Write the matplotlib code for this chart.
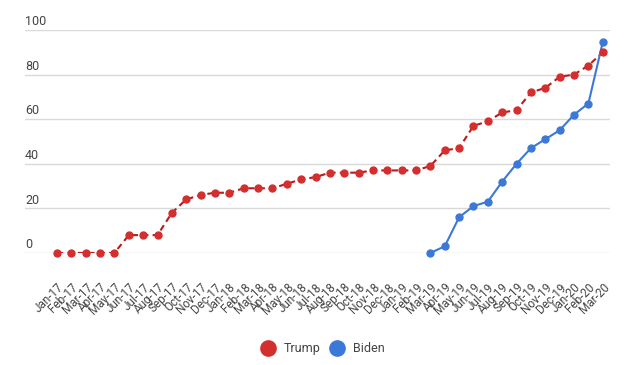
import numpy as np
import matplotlib
matplotlib.use("Agg")
import matplotlib.pyplot as plt
from matplotlib.lines import Line2D

plt.rcParams['font.family'] = ['Roboto', 'DejaVu Sans']

months = ['Jan-17', 'Feb-17', 'Mar-17', 'Apr-17', 'May-17', 'Jun-17', 'Jul-17', 'Aug-17',
          'Sep-17', 'Oct-17', 'Nov-17', 'Dec-17', 'Jan-18', 'Feb-18', 'Mar-18', 'Apr-18',
          'May-18', 'Jun-18', 'Jul-18', 'Aug-18', 'Sep-18', 'Oct-18', 'Nov-18', 'Dec-18',
          'Jan-19', 'Feb-19', 'Mar-19', 'Apr-19', 'May-19', 'Jun-19', 'Jul-19', 'Aug-19',
          'Sep-19', 'Oct-19', 'Nov-19', 'Dec-19', 'Jan-20', 'Feb-20', 'Mar-20']

trump = [0, 0, 0, 0, 0, 8, 8, 8, 18, 24, 26, 27, 27, 29, 29, 29, 31, 33, 34, 36, 36, 36,
         37, 37, 37, 37, 39, 46, 47, 57, 59, 63, 64, 72, 74, 79, 80, 84, 90]

biden_months = months[26:]
biden = [0, 3, 16, 21, 23, 32, 40, 47, 51, 55, 62, 67, 94.5]

yticks = [0, 20, 40, 60, 80, 100]

red = '#d32f2f'
red_line = '#b71c1c'
blue = '#3c78d8'
text_col = '#444444'

fig = plt.figure(figsize=(6.4, 3.65), dpi=100)
ax = fig.add_axes([0.039, 0.307, 0.914, 0.611])

x = np.arange(len(months))
xb = np.array([months.index(m) for m in biden_months])

ax.plot(x, trump, color=red_line, lw=1.5, ls=(0, (3, 2)), zorder=3)
ax.plot(x, trump, ls='none', marker='o', ms=5, color=red, zorder=4, clip_on=False)
ax.plot(xb, biden, color=blue, lw=1.5, zorder=3)
ax.plot(xb, biden, ls='none', marker='o', ms=5, color=blue, zorder=4, clip_on=False)

ax.set_xlim(-2.23, 38.5)
ax.set_ylim(0, 100)

for yv in yticks:
    ax.axhline(yv, color='#d9d9d9', lw=1, zorder=1)
    ax.text(0.0, yv + 0.8, str(yv), transform=ax.get_yaxis_transform(),
            ha='left', va='bottom', fontsize=9, color=text_col)

ax.set_yticks([])
ax.set_xticks(x)
ax.set_xticklabels(months, rotation=45, ha='right', rotation_mode='anchor',
                   fontsize=8.5, color=text_col)
ax.tick_params(axis='x', length=0, pad=20)
for s in ax.spines.values():
    s.set_visible(False)

handles = [Line2D([], [], ls='none', marker='o', ms=11, color=red),
           Line2D([], [], ls='none', marker='o', ms=11, color=blue)]
fig.legend(handles, ['Trump', 'Biden'], loc='center', bbox_to_anchor=(0.5, 0.045),
           ncol=2, frameon=False, fontsize=9, handletextpad=0.3, columnspacing=0.3,
           labelcolor=text_col)

fig.savefig('out.png', dpi=100)
